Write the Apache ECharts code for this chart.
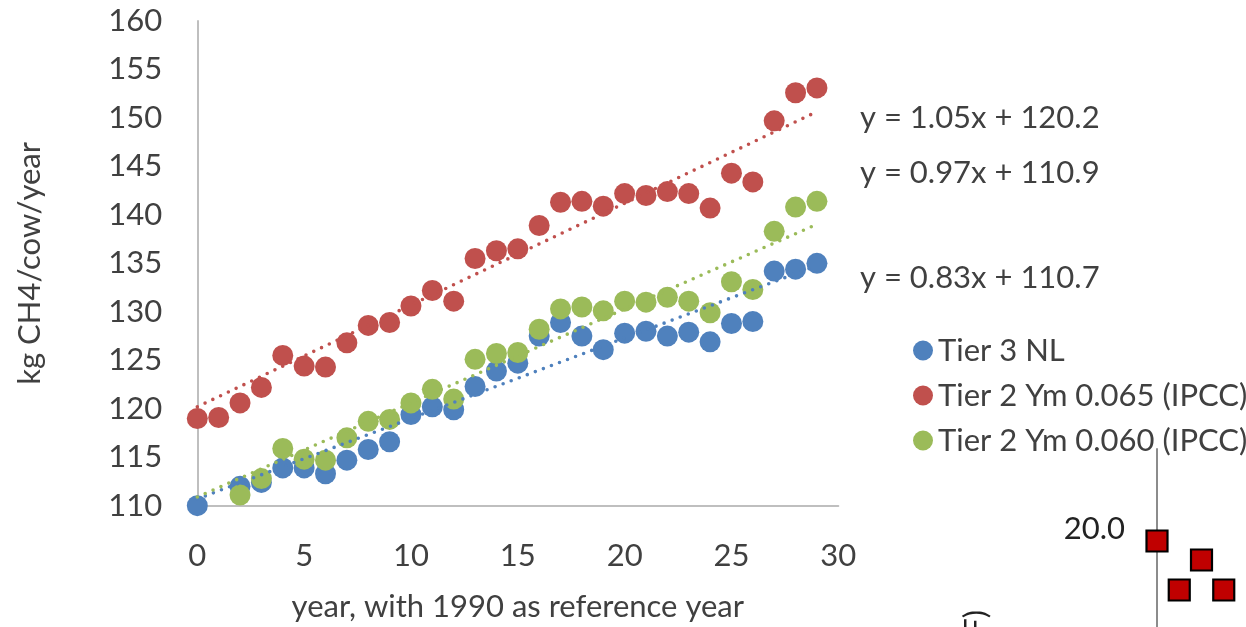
<!DOCTYPE html>
<html><head><meta charset="utf-8">
<script src="https://cdn.jsdelivr.net/npm/echarts@6/dist/echarts.min.js"></script>
<style>html,body{margin:0;padding:0;background:#fff}#c{width:1246px;height:627px}</style>
</head><body><div id="c"></div>
<script>
// ---- data ----
const years = [0,1,2,3,4,5,6,7,8,9,10,11,12,13,14,15,16,17,18,19,20,21,22,23,24,25,26,27,28,29];
const tier3NL = [110.0,null,112.0,112.4,113.9,113.9,113.3,114.7,115.8,116.6,119.4,120.2,119.9,122.3,123.9,124.7,127.5,128.9,127.5,126.1,127.8,128.0,127.5,127.9,126.9,128.8,129.0,134.2,134.4,135.0];
const tier2Ym065 = [119.0,119.1,120.6,122.2,125.5,124.4,124.3,126.8,128.6,128.9,130.6,132.2,131.1,135.5,136.3,136.5,138.9,141.3,141.4,140.9,142.2,142.0,142.4,142.2,140.7,144.3,143.4,149.7,152.6,153.1];
const tier2Ym060 = [null,null,111.1,112.8,115.9,114.8,114.7,117.0,118.7,118.9,120.6,122.0,121.0,125.1,125.7,125.8,128.2,130.3,130.5,130.1,131.1,131.0,131.5,131.1,129.9,133.1,132.3,138.3,140.8,141.4];
const seriesNames = ['Tier 3 NL','Tier 2 Ym 0.065 (IPCC)','Tier 2 Ym 0.060 (IPCC)'];
const trendSlopes = [0.83, 1.05, 0.97];
const trendIntercepts = [110.7, 120.2, 110.9];
const xTicks = [0,5,10,15,20,25,30];
const yTicks = [110,115,120,125,130,135,140,145,150,155,160];
const yAxisTitle = 'kg CH4/cow/year';
const xAxisTitle = 'year, with 1990 as reference year';
// fragment of a neighbouring chart (bottom right)
const insetX = [0,1,2,3];
const insetY = [19.4,16.95,18.45,16.95];
const insetTickLabel = [20];
const insetAxisTitle = '(°F)';

// ---- styles / layout ----
const colors = ['#4F81BD','#C0504D','#9BBB59'];
const txt = '#404040';
const FF = 'Lato';
const FS = 31;
const eqY = [278, 118, 173];

const all = [tier3NL, tier2Ym065, tier2Ym060];
const pts = v => years.map((x,i)=>[x,v[i]]).filter(p=>p[1]!==null);
const xMin = years[0], xMax = years[years.length-1];

const series = [];
all.forEach((v,i)=>{
  series.push({name: seriesNames[i], type:'scatter', xAxisIndex:0, yAxisIndex:0,
    data: pts(v), symbol:'circle', symbolSize:21, itemStyle:{color:colors[i], opacity:1}, z:2, emphasis:{disabled:true}});
});
all.forEach((v,i)=>{
  series.push({name: 'trend'+i, type:'line', xAxisIndex:0, yAxisIndex:0,
    data: [[xMin, trendIntercepts[i]+trendSlopes[i]*xMin],[xMax, trendIntercepts[i]+trendSlopes[i]*xMax]],
    showSymbol:false, symbol:'none', z:3, silent:true,
    lineStyle:{color:colors[i], width:3.6, type:[0,8.6], cap:'round'}});
});
series.push({name:'inset', type:'scatter', xAxisIndex:1, yAxisIndex:1, clip:false,
  data: insetX.map((x,i)=>[x,insetY[i]]), symbol:'rect', symbolSize:21,
  itemStyle:{color:'#C00000', opacity:1, borderColor:'#000', borderWidth:2.2}, z:5, emphasis:{disabled:true}});

const graphic = trendSlopes.map((s,i)=>({type:'text', x:860, y:eqY[i], z:10,
  style:{text:'y = '+s.toFixed(2)+'x + '+trendIntercepts[i].toFixed(1), fill:txt, fontFamily:FF, fontSize:FS, verticalAlign:'middle', align:'left'}}));
graphic.push({type:'text', x:991, y:610, rotation:Math.PI/2, z:10,
  style:{text:insetAxisTitle, fill:'#222', fontFamily:FF, fontSize:FS, align:'right', verticalAlign:'bottom'}});

const option = {
  backgroundColor:'#fff',
  animation:false,
  textStyle:{fontFamily:FF},
  grid:[
    {left:197.3, top:21, width:641, height:484.7, containLabel:false, outerBoundsMode:'none'},
    {left:1157, top:449, width:89, height:200, containLabel:false, outerBoundsMode:'none'}
  ],
  legend:{
    data: seriesNames, orient:'vertical', left:908, top:330, icon:'circle',
    itemWidth:20, itemHeight:20, itemGap:14,
    textStyle:{color:txt, fontFamily:FF, fontSize:FS, lineHeight:31},
    selectedMode:false
  },
  xAxis:[
    {type:'value', gridIndex:0, min:xTicks[0], max:xTicks[xTicks.length-1], interval:xTicks[1]-xTicks[0],
     axisLine:{show:true, lineStyle:{color:'#BFBFBF', width:2}}, axisTick:{show:false}, splitLine:{show:false},
     axisLabel:{color:txt, fontFamily:FF, fontSize:FS, margin:35},
     name:xAxisTitle, nameLocation:'middle', nameGap:86, nameTextStyle:{color:txt, fontFamily:FF, fontSize:FS}},
    {type:'value', gridIndex:1, min:0, max:4, show:false}
  ],
  yAxis:[
    {type:'value', gridIndex:0, min:yTicks[0], max:yTicks[yTicks.length-1], interval:yTicks[1]-yTicks[0],
     axisLine:{show:true, lineStyle:{color:'#BFBFBF', width:2}}, axisTick:{show:false}, splitLine:{show:false},
     axisLabel:{color:txt, fontFamily:FF, fontSize:FS, margin:35},
     name:yAxisTitle, nameLocation:'middle', nameRotate:90, nameGap:152, nameTextStyle:{color:txt, fontFamily:FF, fontSize:FS}},
    {type:'value', gridIndex:1, min:14, max:24, interval:2,
     axisLine:{show:true, onZero:false, lineStyle:{color:'#8C8C8C', width:2}}, axisTick:{show:false}, splitLine:{show:false},
     axisLabel:{color:'#222', fontFamily:FF, fontSize:FS, margin:32,
       formatter: v => insetTickLabel.indexOf(v) >= 0 ? v.toFixed(1) : ''}}
  ],
  graphic: graphic,
  series: series
};
const chart = echarts.init(document.getElementById('c'), null, {renderer:'canvas'});
chart.setOption(option);
</script>
</body></html>
